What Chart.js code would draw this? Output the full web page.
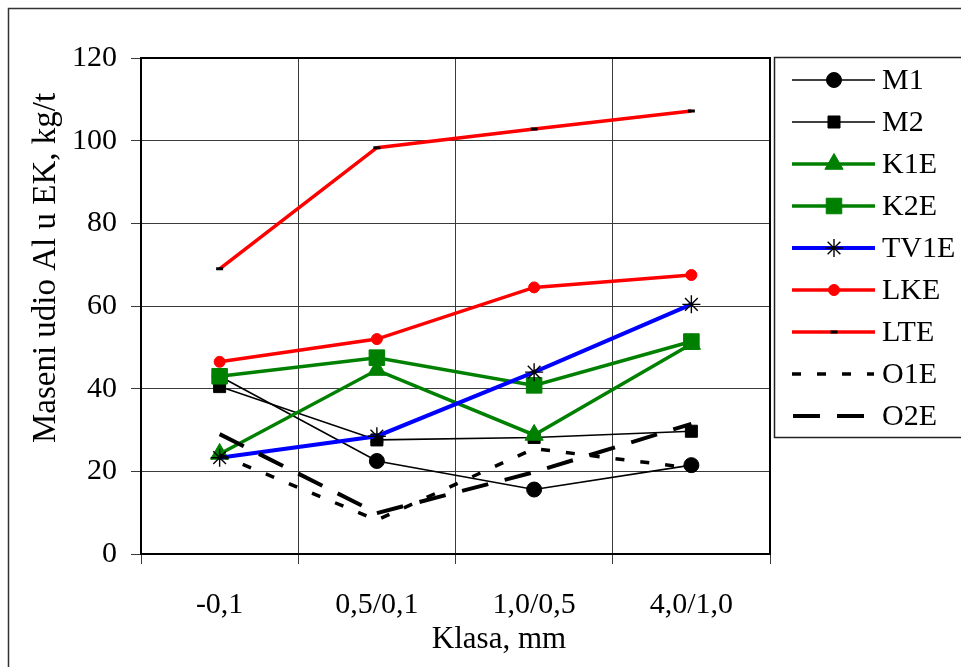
<!DOCTYPE html>
<html>
<head>
<meta charset="utf-8">
<script src="https://cdn.jsdelivr.net/npm/chart.js@4/dist/chart.umd.min.js"></script>
<style>
html,body{margin:0;padding:0;background:#fff;}
#wrap{width:961px;height:667px;position:relative;}
</style>
</head>
<body>
<div id="wrap"><canvas id="c" width="961" height="667"></canvas></div>
<script>
const categories = ['-0,1', '0,5/0,1', '1,0/0,5', '4,0/1,0'];
const M1   = [43, 22.5, 15.6, 21.5];
const M2   = [40.5, 27.6, 28.2, 29.7];
const K1E  = [24.2, 44.5, 28.8, 50.8];
const K2E  = [43, 47.5, 40.8, 51.4];
const TV1E = [23.3, 28.5, 44, 60.4];
const LKE  = [46.5, 52, 64.5, 67.5];
const LTE  = [69, 98.3, 102.8, 107.2];
const O1E  = [24, 8.2, 25.5, 20.8];
const O2E  = [29, 9.9, 19.8, 31.5];
const seriesNames = ['M1','M2','K1E','K2E','TV1E','LKE','LTE','O1E','O2E'];
const yTicks = [0, 20, 40, 60, 80, 100, 120];
const yTitle = 'Maseni udio Al u EK, kg/t';
const xTitle = 'Klasa, mm';

const GREEN = '#008000', BLUE = '#0000FF', RED = '#FF0000', BLACK = '#000000';
const styles = {
  M1:   {line: BLACK, width: 1.6, point: 'circle', r: 7.5, fill: BLACK, pborder: BLACK, dash: []},
  M2:   {line: BLACK, width: 1.6, point: 'rect', r: 8.5, fill: BLACK, pborder: BLACK, dash: []},
  K1E:  {line: GREEN, width: 3.5, point: 'triangle', r: 10.5, fill: GREEN, pborder: GREEN, dash: []},
  K2E:  {line: GREEN, width: 3.5, point: 'rect', r: 11, fill: GREEN, pborder: GREEN, dash: []},
  TV1E: {line: BLUE, width: 4, point: 'star', r: 9, fill: BLACK, pborder: BLACK, dash: []},
  LKE:  {line: RED, width: 3.5, point: 'circle', r: 5.5, fill: RED, pborder: RED, dash: []},
  LTE:  {line: RED, width: 3.5, point: 'line', r: 3.5, fill: BLACK, pborder: BLACK, dash: []},
  O1E:  {line: BLACK, width: 3.5, point: false, r: 0, fill: BLACK, pborder: BLACK, dash: [9, 16]},
  O2E:  {line: BLACK, width: 4, point: false, r: 0, fill: BLACK, pborder: BLACK, dash: [27, 17]}
};
const seriesData = {M1, M2, K1E, K2E, TV1E, LKE, LTE, O1E, O2E};

const datasets = seriesNames.map((name, i) => {
  const s = styles[name];
  return {
    label: name,
    data: seriesData[name],
    borderColor: s.line,
    backgroundColor: s.fill,
    borderWidth: s.width,
    borderDash: s.dash,
    borderCapStyle: 'butt',
    tension: 0,
    fill: false,
    order: seriesNames.length - i,
    pointStyle: s.point,
    pointRadius: s.point ? s.r : 0,
    pointHoverRadius: s.point ? s.r : 0,
    pointBackgroundColor: s.fill,
    pointBorderColor: s.pborder,
    pointBorderWidth: s.point === 'line' ? 3 : (s.point === 'star' ? 1.4 : 1),
    spanGaps: true
  };
});

const FONT = '"Liberation Serif", "Times New Roman", serif';

function drawMarker(ctx, style, r, x, y, fill, border, bw) {
  ctx.save();
  ctx.fillStyle = fill; ctx.strokeStyle = border; ctx.lineWidth = bw; ctx.setLineDash([]);
  ctx.beginPath();
  if (style === 'circle') {
    ctx.arc(x, y, r, 0, Math.PI * 2); ctx.fill(); ctx.stroke();
  } else if (style === 'rect') {
    const h = r * Math.SQRT1_2; ctx.rect(x - h, y - h, 2 * h, 2 * h); ctx.fill(); ctx.stroke();
  } else if (style === 'triangle') {
    ctx.moveTo(x, y - r);
    ctx.lineTo(x + r * Math.sin(Math.PI / 3), y + r * 0.5);
    ctx.lineTo(x - r * Math.sin(Math.PI / 3), y + r * 0.5);
    ctx.closePath(); ctx.fill(); ctx.stroke();
  } else if (style === 'star') {
    ctx.moveTo(x - r, y); ctx.lineTo(x + r, y);
    ctx.moveTo(x, y - r); ctx.lineTo(x, y + r);
    const d = r * Math.SQRT1_2;
    ctx.moveTo(x - d, y - d); ctx.lineTo(x + d, y + d);
    ctx.moveTo(x - d, y + d); ctx.lineTo(x + d, y - d);
    ctx.stroke();
  } else if (style === 'line') {
    ctx.moveTo(x - r, y); ctx.lineTo(x + r, y); ctx.stroke();
  }
  ctx.restore();
}

const decor = {
  id: 'decor',
  beforeDraw(chart) {
    const ctx = chart.ctx;
    ctx.save();
    ctx.fillStyle = '#fff';
    ctx.fillRect(0, 0, chart.width, chart.height);
    ctx.restore();
  },
  afterDatasetsDraw(chart) {
    const ctx = chart.ctx, a = chart.chartArea;
    ctx.save();
    ctx.strokeStyle = '#000'; ctx.lineWidth = 2; ctx.setLineDash([]);
    ctx.strokeRect(a.left, a.top, a.right - a.left, a.bottom - a.top);
    ctx.restore();
  },
  afterDraw(chart) {
    const ctx = chart.ctx;
    ctx.save();
    // outer frame
    ctx.strokeStyle = '#333'; ctx.lineWidth = 1.5;
    ctx.strokeRect(8.5, 8.5, 1000, 1000);
    // axis titles
    ctx.fillStyle = '#000';
    ctx.textAlign = 'center'; ctx.textBaseline = 'middle';
    ctx.font = '33px ' + FONT;
    ctx.save();
    ctx.translate(46, 268);
    ctx.rotate(-Math.PI / 2);
    ctx.fillText(yTitle, 0, 0);
    ctx.restore();
    ctx.font = '31px ' + FONT;
    ctx.fillText(xTitle, 499, 640);
    // legend box
    ctx.strokeStyle = '#222'; ctx.lineWidth = 1.5;
    ctx.strokeRect(774.5, 57.5, 400, 380);
    const x0 = 792, x1 = 875, xm = 834, xt = 882;
    seriesNames.forEach((name, i) => {
      const s = styles[name];
      const y = 80 + i * 42;
      ctx.save();
      ctx.strokeStyle = s.line; ctx.lineWidth = s.width; ctx.lineCap = 'butt';
      ctx.setLineDash(s.dash);
      ctx.beginPath();
      if (name === 'O1E') { ctx.moveTo(792, y); ctx.lineTo(874, y); }
      else if (name === 'O2E') { ctx.moveTo(793, y); ctx.lineTo(865, y); }
      else { ctx.moveTo(x0, y); ctx.lineTo(x1, y); }
      ctx.stroke();
      ctx.restore();
      if (s.point) {
        const bw = s.point === 'line' ? 3 : (s.point === 'star' ? 1.4 : 1);
        drawMarker(ctx, s.point, s.r, xm, y, s.fill, s.pborder, bw);
      }
      ctx.fillStyle = '#000';
      ctx.font = '30px ' + FONT;
      ctx.textAlign = 'left'; ctx.textBaseline = 'middle';
      ctx.fillText(name, xt, y + 1);
    });
    ctx.restore();
  }
};

new Chart(document.getElementById('c'), {
  type: 'line',
  data: { labels: categories, datasets },
  options: {
    responsive: false,
    animation: false,
    events: [],
    layout: { padding: { left: 0, top: 58, right: 191, bottom: 0 } },
    plugins: { legend: { display: false }, tooltip: { enabled: false }, title: { display: false } },
    scales: {
      x: {
        type: 'category',
        offset: true,
        grid: { offset: true, color: '#3a3a3a', lineWidth: 1, drawTicks: true, tickLength: 10, tickColor: '#3a3a3a' },
        border: { display: true, color: '#000', width: 2 },
        ticks: { color: '#000', font: { family: FONT, size: 30 }, padding: 23, maxRotation: 0, autoSkip: false },
        afterFit(scale) { scale.height = 113; }
      },
      y: {
        type: 'linear',
        min: 0, max: 120,
        afterBuildTicks(scale) { scale.ticks = yTicks.map(v => ({ value: v })); },
        grid: { color: '#3a3a3a', lineWidth: 1, drawTicks: true, tickLength: 10, tickColor: '#3a3a3a' },
        border: { display: true, color: '#000', width: 2 },
        ticks: { color: '#000', font: { family: FONT, size: 30 }, padding: 14 },
        afterFit(scale) { scale.width = 141; }
      }
    }
  },
  plugins: [decor]
});
</script>
</body>
</html>
